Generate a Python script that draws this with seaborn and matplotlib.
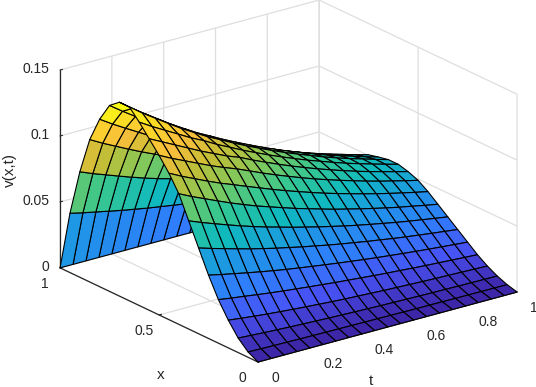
import numpy as np
import matplotlib
matplotlib.use("Agg")
import matplotlib.pyplot as plt
import seaborn as sns
from matplotlib.colors import Normalize
from mpl_toolkits.mplot3d import proj3d

t_values = [0.00, 0.05, 0.10, 0.15, 0.20, 0.25, 0.30, 0.35, 0.40, 0.45, 0.50,
            0.55, 0.60, 0.65, 0.70, 0.75, 0.80, 0.85, 0.90, 0.95, 1.00]
x_values = [0.00, 0.05, 0.10, 0.15, 0.20, 0.25, 0.30, 0.35, 0.40, 0.45, 0.50,
            0.55, 0.60, 0.65, 0.70, 0.75, 0.80, 0.85, 0.90, 0.95, 1.00]
# v(x,t) in thousandths, one row per x, one column per t
v_thousandths = [
    [0]*21,
    [4.0,3.8,3.6,3.5,3.3,3.2,3.1,3.0,2.9,2.8,2.7,2.6,2.5,2.4,2.4,2.3,2.2,2.2,2.1,2.1,2.0],
    [11,10.4,9.8,9.3,8.8,8.4,8.0,7.6,7.3,7.0,6.7,6.4,6.2,6.0,5.8,5.6,5.5,5.3,5.2,5.1,5.0],
    [21,19.8,18.7,17.7,16.8,16,15.2,14.5,13.8,13.2,12.7,12.2,11.7,11.3,10.9,10.5,10.2,9.9,9.6,9.3,9.0],
    [33,31.5,30.2,28.8,27.5,26.3,25.2,24.1,23.1,22.1,21.2,20.3,19.4,18.6,17.9,17.1,16.4,15.8,15.2,14.6,14],
    [48,45.8,43.8,41.8,39.9,38.1,36.4,34.9,33.4,32,30.6,29.3,28,26.8,25.7,24.6,23.6,22.6,21.7,20.8,20],
    [65,62,59.2,56.4,53.7,51.3,48.9,46.8,44.6,42.7,40.7,38.9,37.2,35.5,34,32.4,31,29.7,28.4,27.2,26],
    [82,78.1,74.5,71,67.6,64.4,61.4,58.7,55.9,53.4,50.9,48.6,46.3,44.2,42.2,40.3,38.4,36.7,35.1,33.5,32],
    [99,94.2,89.9,85.6,81.4,77.5,73.8,70.5,67.2,64,61.1,58.2,55.4,52.9,50.4,48.1,45.8,43.7,41.8,39.8,38],
    [111,106,101.5,97,92.8,89,85.1,81.3,77.5,73.9,70.5,67.2,64,61.1,58.3,55.6,53,50.6,48.3,46.1,44],
    [121,116,111.5,107,102.5,98.5,94.8,90.6,86.3,82.3,78.5,74.8,71.3,68,64.9,61.9,59,56.3,53.8,51.3,49],
    [130,125,120,115,110,105.5,101,97.3,92.6,88.3,84.1,80.1,76.3,72.7,69.3,66,62.9,60,57.3,54.6,52],
    [139,133,127.5,122,116.5,111.7,106.2,101.4,96.5,92,87.6,83.5,79.5,75.7,72.2,68.7,65.4,62.4,59.5,56.7,54],
    [147,139.7,133.1,126.5,120.1,114.3,108.6,103.6,98.5,93.7,89.2,84.8,80.6,76.7,73,69.3,65.9,62.7,59.8,56.8,54],
    [147,139.6,132.8,126.2,119.7,113.7,107.9,102.8,97.6,92.8,88.2,83.7,79.5,75.5,71.7,68,64.5,61.3,58.3,55.2,52.4],
    [141,134,127.4,121.1,114.8,109.1,103.6,98.7,93.8,89.1,84.7,80.5,76.4,72.6,69,65.4,62.1,59,56.1,53.2,50.5],
    [127,120.7,114.9,109.2,103.6,98.5,93.5,89.2,84.7,80.6,76.6,72.8,69.2,65.8,62.5,59.4,56.4,53.6,51,48.4,46],
    [108,102.6,97.7,92.8,88.1,83.7,79.5,75.8,72,68.5,65.1,61.8,58.7,55.8,53.1,50.4,47.8,45.5,43.3,41.1,39],
    [80,76,72.4,68.8,65.3,62,58.9,56.2,53.4,50.8,48.3,45.9,43.6,41.4,39.4,37.4,35.5,33.8,32.2,30.5,29],
    [45,42.7,40.7,38.6,36.6,34.8,33,31.5,29.9,28.4,27,25.6,24.3,23.1,21.9,20.8,19.7,18.7,17.8,16.9,16],
    [0]*21,
]
t_ticks = [0, 0.2, 0.4, 0.6, 0.8, 1]
t_tick_labels = ["0", "0.2", "0.4", "0.6", "0.8", "1"]
x_ticks = [0, 0.5, 1]
x_tick_labels = ["0", "0.5", "1"]
v_ticks = [0, 0.05, 0.1, 0.15]
v_tick_labels = ["0", "0.05", "0.1", "0.15"]
parula_colors = ["#3e26a8", "#4753f5", "#307dfc", "#1f95e6", "#0fb9be",
                 "#35c791", "#82c85a", "#c3be37", "#fabe3c", "#fad728", "#f9fb14"]

sns.set_theme(style="white")
plt.rcParams["font.family"] = ["Liberation Sans", "DejaVu Sans"]
cmap = sns.blend_palette(parula_colors, n_colors=256, as_cmap=True)
INK = "#262626"
GRID = (0.87, 0.87, 0.87, 1)

T, X = np.meshgrid(t_values, x_values)
V = np.array(v_thousandths, dtype=float) / 1000.0
cell_colors = cmap(Normalize(0, 0.147)(V))

fig = plt.figure(figsize=(5.36, 3.87), dpi=100, facecolor="white")
ax = fig.add_axes([0, 0, 0.8, 0.8 * 536 / 387], projection="3d")
ax.set_proj_type("ortho")
ax.view_init(elev=21, azim=233)
ax.set_box_aspect((324.5, 329, 212))
ax.set_xlim(0, 1, view_margin=0)
ax.set_ylim(0, 1, view_margin=0)
ax.set_zlim(0, 0.15, view_margin=0)

ax.plot_surface(T, X, V, facecolors=cell_colors, rstride=1, cstride=1,
                edgecolor="black", linewidth=0.8, antialiased=True, shade=False)

ax.set_xticks(t_ticks, t_tick_labels)
ax.set_yticks(x_ticks, x_tick_labels)
ax.set_zticks(v_ticks, v_tick_labels)
ax.tick_params(axis="x", labelsize=10, labelcolor=INK, pad=4.4)
ax.tick_params(axis="y", labelsize=10, labelcolor=INK, pad=3)
ax.tick_params(axis="z", labelsize=10, labelcolor=INK, pad=-3.7)
ax.zaxis.set_ticks_position("upper")
for tick in ax.xaxis.get_major_ticks():
    tick.label1.set_ha("left")
    tick.label1.set_va("baseline")
for tick in ax.yaxis.get_major_ticks():
    tick.label1.set_va("center")
for tick in ax.zaxis.get_major_ticks():
    tick.label1.set_ha("right")
    tick.label1.set_va("center")
for axis in (ax.xaxis, ax.yaxis, ax.zaxis):
    axis.set_pane_color((1, 1, 1, 0))
    axis.pane.set_edgecolor(GRID)
    axis.line.set_color(INK)
    axis.line.set_linewidth(0.9)
    axis._axinfo["grid"].update(color=GRID, linewidth=0.9)
    axis._axinfo["tick"].update(inward_factor=0.0, outward_factor=0.12,
                                linewidth={True: 0.8, False: 0.8}, color=INK)

W_PX, H_PX = 536, 387
fig.text(371 / W_PX, 1 - 381 / H_PX, "t", fontsize=11, color=INK, ha="center", va="center")
fig.text(161 / W_PX, 1 - 375 / H_PX, "x", fontsize=11, color=INK, ha="center", va="center")
fig.text(10 / W_PX, 1 - 170 / H_PX, "v(x,t)", fontsize=11, color=INK, ha="center", va="center", rotation=90)


def place(axes, left_px, right_px, front_px, front_py):
    """Scale and shift the 3-D box so its floor corners land on the wanted pixels."""
    for _ in range(2):
        fig.canvas.draw()
        M = axes.get_proj()
        pts = [(0, 1, 0), (1, 0, 0), (0, 0, 0)]
        disp = [axes.transData.transform(proj3d.proj_transform(*p, M)[:2]) for p in pts]
        s = (right_px - left_px) / (disp[1][0] - disp[0][0])
        pos = axes.get_position()
        cx, cy = (pos.x0 + pos.x1) / 2, (pos.y0 + pos.y1) / 2
        W, H = fig.get_size_inches() * fig.dpi
        fx = (disp[2][0] / W - cx) * s + cx
        fy = (disp[2][1] / H - cy) * s + cy
        nw, nh = pos.width * s, pos.height * s
        nx = cx + (front_px / W - fx)
        ny = cy + ((H - front_py) / H - fy)
        axes.set_position([nx - nw / 2, ny - nh / 2, nw, nh])


place(ax, 60, 517, 258, 362)
fig.savefig("out.png", dpi=100, facecolor="white")
